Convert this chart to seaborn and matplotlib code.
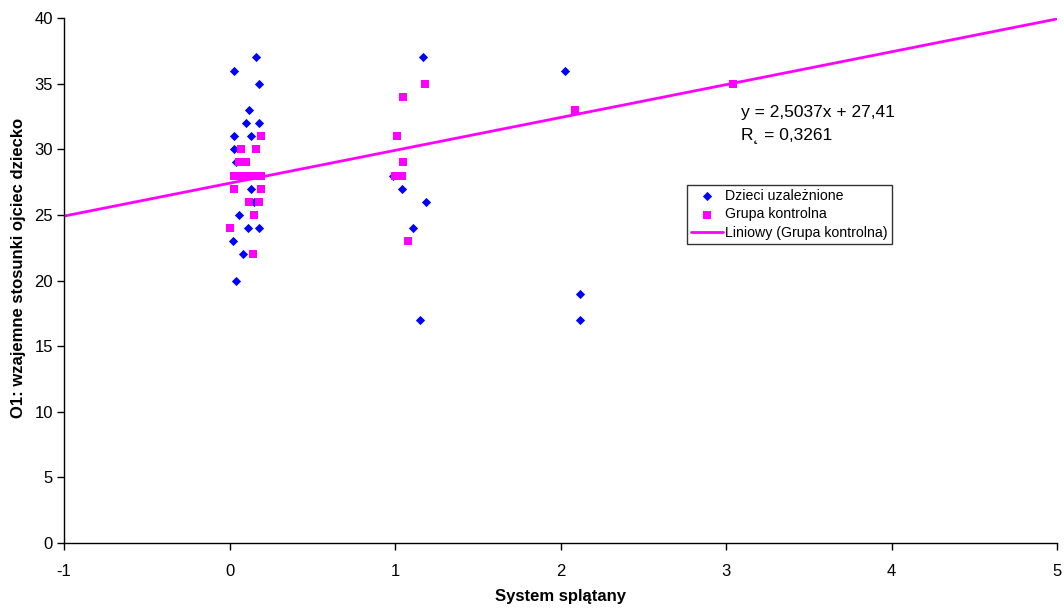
import numpy as np
import pandas as pd
import matplotlib
matplotlib.use("Agg")
import matplotlib.pyplot as plt
import seaborn as sns

# --- data ---
dzieci_x = [0.16, 0.03, 0.18, 0.12, 0.10, 0.18, 0.03, 0.13, 0.03, 0.04,
            0.13, 0.15, 0.06, 0.11, 0.18, 0.02, 0.08, 0.04,
            1.17, 0.99, 1.04, 1.19, 1.11, 1.15,
            2.03, 2.12, 2.12]
dzieci_y = [37, 36, 35, 33, 32, 32, 31, 31, 30, 29,
            27, 26, 25, 24, 24, 23, 22, 20,
            37, 28, 27, 26, 24, 17,
            36, 19, 17]

kontrolna_x = [0.19, 0.07, 0.16, 0.06, 0.10, 0.03, 0.07, 0.11, 0.15, 0.19,
               0.03, 0.19, 0.12, 0.18, 0.15, 0.00, 0.14,
               1.18, 1.05, 1.01, 1.05, 1.00, 1.04, 1.08,
               2.09, 3.04]
kontrolna_y = [31, 30, 30, 29, 29, 28, 28, 28, 28, 28,
               27, 27, 26, 26, 25, 24, 22,
               35, 34, 31, 29, 28, 28, 23,
               33, 35]

# trend line for Grupa kontrolna (as printed on the chart)
slope = 2.5037
intercept = 27.41
r2_text = "0,3261"

x_ticks = [-1, 0, 1, 2, 3, 4, 5]
y_ticks = [0, 5, 10, 15, 20, 25, 30, 35, 40]

df = pd.DataFrame({
    "x": dzieci_x + kontrolna_x,
    "y": dzieci_y + kontrolna_y,
    "grupa": ["Dzieci uzależnione"] * len(dzieci_x) + ["Grupa kontrolna"] * len(kontrolna_x),
})

sns.set_style("white")
plt.rcParams["font.family"] = ["Liberation Sans", "DejaVu Sans"]
plt.rcParams["axes.unicode_minus"] = False
plt.rcParams["text.color"] = "black"
plt.rcParams["axes.labelcolor"] = "black"
plt.rcParams["xtick.color"] = "black"
plt.rcParams["ytick.color"] = "black"

fig = plt.figure(figsize=(10.64, 6.11), dpi=100)
ax = fig.add_axes([64 / 1064, 68 / 611, 993 / 1064, 525 / 611])

blue = "#0000FF"
pink = "#FF00FF"

sns.scatterplot(data=df[df.grupa == "Dzieci uzależnione"], x="x", y="y",
                color=blue, marker="D", s=22, linewidth=0, ax=ax,
                label="Dzieci uzależnione", zorder=3)
sns.scatterplot(data=df[df.grupa == "Grupa kontrolna"], x="x", y="y",
                color=pink, marker="s", s=30, linewidth=0, ax=ax,
                label="Grupa kontrolna", zorder=4)

trend_x = np.array([x_ticks[0], x_ticks[-1]])
sns.lineplot(x=trend_x, y=slope * trend_x + intercept, color=pink, linewidth=2,
             ax=ax, label="Liniowy (Grupa kontrolna)", zorder=2)

ax.set_xlim(x_ticks[0], x_ticks[-1])
ax.set_ylim(y_ticks[0], y_ticks[-1])
ax.set_xticks(x_ticks)
ax.set_yticks(y_ticks)
ax.tick_params(axis="both", direction="out", length=5, width=1, color="black",
               labelcolor="black", labelsize=12, pad=3, bottom=True, left=True)
ax.tick_params(axis="x", pad=10)
for s in ["top", "right"]:
    ax.spines[s].set_visible(False)
for s in ["left", "bottom"]:
    ax.spines[s].set_color("black")
    ax.spines[s].set_linewidth(1)

ax.set_xlabel("System splątany", fontsize=12, fontweight="bold", labelpad=7)
ax.set_ylabel("O1: wzajemne stosunki ojciec dziecko", fontsize=12,
              fontweight="bold")
ax.yaxis.set_label_coords(-0.038, 0.524)

ax.text(3.09, 32.8, "y = 2,5037x + 27,41", fontsize=12.5, va="center", ha="left")
ax.text(3.09, 31.1, "R\u02db = " + r2_text, fontsize=12.5, va="center", ha="left")

leg = ax.legend(loc="upper left", bbox_to_anchor=(0.627, 0.682), frameon=True,
                fancybox=False, edgecolor="black", fontsize=10.2,
                borderpad=0.3, labelspacing=0.3, handlelength=2.3,
                handletextpad=0.1, borderaxespad=0)
leg.get_frame().set_linewidth(1)
for t in leg.get_texts():
    t.set_color("black")

fig.savefig("out.png", dpi=100)
